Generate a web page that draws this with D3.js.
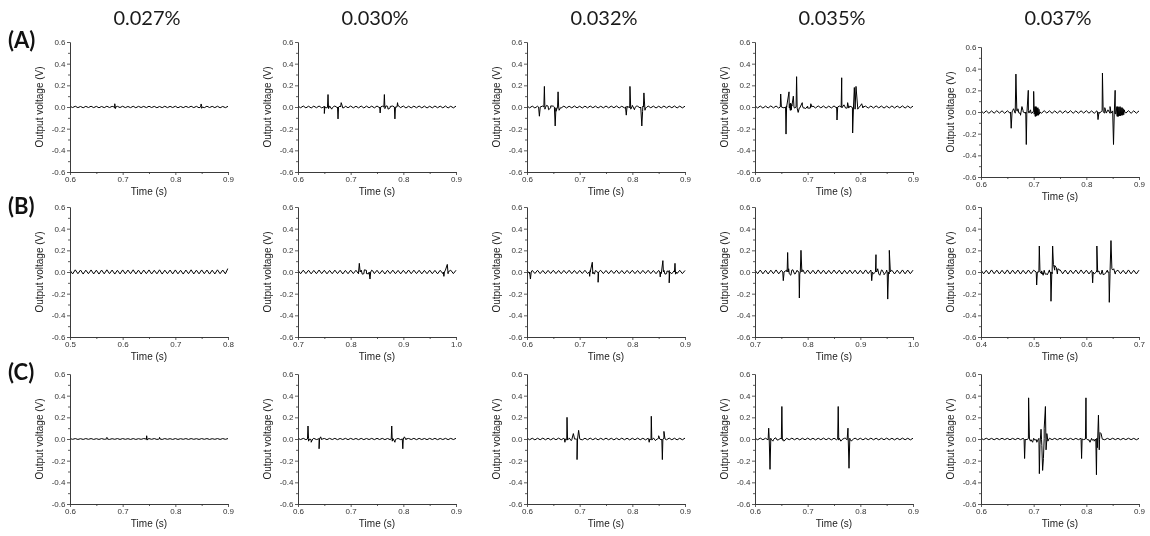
<!DOCTYPE html>
<html>
<head>
<meta charset="utf-8">
<script src="https://cdn.jsdelivr.net/npm/d3@7"></script>
<style>
  body { margin: 0; background: #fff; }
  svg { display: block; will-change: transform; }
  .axis text { font-family: Arial, "Liberation Sans", sans-serif; font-size: 8px; fill: #333; }
  .axis path, .axis line { stroke: #333; stroke-width: 0.8; }
  .axis-label { font-family: Arial, "Liberation Sans", sans-serif; font-size: 10px; fill: #222; }
</style>
</head>
<body>
<div id="chart"></div>
<script>
// column titles (concentration) and row letters
const concentrations = ["0.027%", "0.030%", "0.032%", "0.035%", "0.037%"];
const rowLabels = ["(A)", "(B)", "(C)"];
const yTicks = [-0.6, -0.4, -0.2, 0.0, 0.2, 0.4, 0.6];
const yMinorTicks = [-0.5, -0.3, -0.1, 0.1, 0.3, 0.5];

// start of the 0.3 s time window of each panel, [row][col]
const timeStart = [
  [0.6, 0.6, 0.6, 0.6, 0.6],
  [0.5, 0.7, 0.6, 0.7, 0.4],
  [0.6, 0.6, 0.6, 0.6, 0.6]
];
const windowLength = 0.3;
const sampleStep = 0.005; // baseline samples, s

// baseline ripple in mV, one sample every 5 ms from the window start
const rippleA1 = [6,-5,7,-6,5,-7,6,-5,7,-6, 6,-7,5,-6,7,-5,6,-7,6,-5, 7,-6,5,-6,7,-7,6,-5,6,-6, 7,-5,6,-7,5,-6,7,-6,6,-5, 7,-7,5,-6,6,-5,7,-6,6,-7, 5,-6,7,-5,6,-6,7,-7,5,-6, 6];
const rippleA2 = [8,-7,9,-8,7,-9,8,-7,9,-8, 8,-9,7,-8,9,-7,8,-9,8,-7, 9,-8,7,-8,9,-9,8,-7,8,-8, 9,-7,8,-9,7,-8,9,-8,8,-7, 9,-9,7,-8,8,-7,9,-8,8,-9, 7,-8,9,-7,8,-8,9,-9,7,-8, 8];
const rippleA3 = [9,-8,8,-9,7,-8,9,-7,8,-9, 8,-7,9,-8,8,-9,7,-8,9,-8, 7,-9,8,-8,9,-7,8,-9,7,-8, 9,-8,8,-7,9,-9,7,-8,8,-7, 9,-8,7,-9,8,-8,9,-7,8,-9, 7,-8,9,-8,8,-7,9,-9,8,-8, 7];
const rippleA4 = [10,-9,9,-10,8,-9,10,-8,9,-10, 9,-8,10,-9,9,-10,8,-9,10,-9, 8,-10,9,-9,10,-8,9,-10,8,-9, 10,-9,9,-8,10,-10,8,-9,9,-8, 10,-9,8,-10,9,-9,10,-8,9,-10, 8,-9,10,-9,9,-8,10,-10,9,-9, 8];
const rippleA5 = [12,-11,11,-12,10,-11,12,-10,11,-12, 11,-10,12,-11,11,-12,10,-11,12,-11, 10,-12,11,-11,12,-10,11,-12,10,-11, 12,-11,11,-10,12,-12,10,-11,11,-10, 12,-11,10,-12,11,-11,12,-10,11,-12, 10,-11,12,-11,11,-10,12,-12,11,-11, 10];
const rippleB1 = [17,-18,20,-16,18,-19,17,-16,19,-18, 17,-19,18,-17,20,-16,18,-19,16,-18, 19,-17,18,-16,20,-18,17,-19,18,-16, 19,-18,16,-17,20,-19,17,-16,18,-18, 19,-17,16,-19,18,-16,20,-18,17,-17, 19,-16,18,-19,17,-18,20,-16,18,-17, 30];
const rippleB2 = [15,-16,17,-15,16,-17,15,-16,18,-15, 16,-17,15,-16,17,-15,16,-18,15,-16, 17,-15,16,-17,18,-16,15,-16,17,-15, 16,-17,15,-18,16,-15,17,-16,15,-17, 16,-15,18,-16,17,-15,16,-17,15,-16, 17,-16,15,-17,16,-15,18,-16,17,-15, 16];
const rippleB3 = [14,-16,15,-14,16,-15,14,-16,15,-14, 16,-15,14,-16,15,-14,16,-15,14,-16, 15,-14,16,-15,14,-16,15,-14,16,-15, 14,-16,15,-14,16,-15,14,-16,15,-14, 16,-15,14,-16,15,-14,16,-15,14,-16, 15,-14,16,-15,14,-16,15,-14,16,-15, 14];
const rippleB4 = [17,-16,18,-17,16,-18,17,-16,19,-17, 16,-18,17,-16,18,-17,16,-19,17,-16, 18,-17,16,-18,19,-16,17,-18,16,-17, 18,-16,17,-19,16,-17,18,-16,17,-18, 16,-17,19,-16,18,-17,16,-18,17,-16, 18,-17,16,-18,17,-16,19,-17,18,-16, 17];
const rippleB5 = [18,-17,16,-18,19,-16,17,-18,16,-17, 19,-18,17,-16,18,-19,16,-17,18,-16, 17,-19,18,-17,16,-18,19,-16,17,-18, 16,-17,18,-19,17,-16,18,-17,19,-16, 17,-18,16,-17,19,-16,18,-18,17,-16, 18,-19,17,-16,16,-18,19,-17,16,-18, 17];
const rippleC1 = [4,-3,4,-4,3,-4,4,-3,4,-4, 3,-4,4,-3,4,-4,3,-3,4,-4, 4,-3,3,-4,4,-4,3,-3,4,-4, 4,-3,4,-4,3,-4,4,-3,3,-4, 4,-4,3,-3,4,-4,4,-3,3,-4, 4,-3,4,-4,3,-3,4,-4,4,-3, 4];
const rippleC2 = [6,-5,6,-6,5,-6,6,-5,6,-6, 5,-6,6,-5,6,-6,5,-5,6,-6, 6,-5,5,-6,6,-6,5,-5,6,-6, 6,-5,6,-6,5,-6,6,-5,5,-6, 6,-6,5,-5,6,-6,6,-5,5,-6, 6,-5,6,-6,5,-5,6,-6,6,-5, 6];
const rippleC3 = [8,-7,7,-8,7,-7,8,-7,7,-8, 7,-7,8,-7,7,-8,7,-7,8,-7, 7,-8,7,-7,8,-7,7,-8,7,-7, 8,-7,7,-8,7,-7,8,-7,7,-8, 7,-7,8,-7,7,-8,7,-7,8,-7, 7,-8,7,-7,8,-7,7,-8,7,-7, 8];
const rippleC4 = [7,-7,8,-7,7,-8,7,-7,8,-7, 7,-8,7,-7,8,-7,7,-8,7,-7, 8,-7,7,-8,7,-7,8,-7,7,-8, 7,-7,8,-7,7,-8,7,-7,8,-7, 7,-8,7,-7,8,-7,7,-8,7,-7, 8,-7,7,-8,7,-7,8,-7,7,-8, 7];
const rippleC5 = [6,-6,7,-6,6,-7,6,-6,7,-6, 6,-7,6,-6,7,-6,6,-7,6,-6, 7,-6,6,-7,6,-6,7,-6,6,-7, 6,-6,7,-6,6,-7,6,-6,7,-6, 6,-7,6,-6,7,-6,6,-7,6,-6, 7,-6,6,-7,6,-6,7,-6,6,-7, 6];

// spike bursts: [time (s), voltage (mV)]
const spikesA1 = [[0.684,0],[0.685,30],[0.686,-15],[0.687,0],[0.848,0],[0.849,28],[0.850,-12],[0.851,0]];
const spikesA2 = [
  [0.649,0],[0.650,-60],[0.651,0],[0.656,0],[0.657,115],[0.658,-15],[0.660,10],[0.664,-20],[0.668,5],[0.675,0],[0.676,-110],[0.677,0],[0.681,0],[0.682,40],[0.684,10],[0.688,-5],
  [0.755,0],[0.756,-55],[0.757,0],[0.763,0],[0.764,115],[0.765,-15],[0.767,10],[0.771,-20],[0.775,5],[0.783,0],[0.784,-110],[0.785,0],[0.788,0],[0.789,40],[0.791,10],[0.795,-5]
];
const spikesA3 = [
  [0.622,0],[0.6235,-85],[0.625,0],[0.632,0],[0.633,190],[0.634,-20],[0.637,15],[0.641,-25],[0.645,10],[0.652,0],[0.6535,-175],[0.655,-40],[0.658,0],[0.659,140],[0.661,-30],[0.664,-5],
  [0.787,0],[0.7885,-75],[0.790,0],[0.7945,0],[0.7955,190],[0.797,-20],[0.800,15],[0.804,-25],[0.808,10],[0.816,0],[0.818,-175],[0.8195,-40],[0.821,0],[0.822,130],[0.824,-30],[0.827,-5]
];
const spikesA4 = [
  [0.648,0],[0.6488,120],[0.650,0],[0.658,0],[0.6589,-250],[0.660,0],[0.6646,140],[0.6655,-10],[0.6665,30],[0.667,-30],[0.6675,35],[0.668,-30],[0.6685,30],[0.669,-25],[0.6698,20],[0.6728,100],[0.674,0],[0.678,0],[0.679,280],[0.680,-10],[0.682,-50],[0.684,-10],[0.6897,40],[0.692,-10],[0.696,-15],[0.700,-10],[0.706,30],[0.708,0],
  [0.755,0],[0.7557,-120],[0.757,0],[0.7636,0],[0.7646,270],[0.766,0],[0.769,20],[0.772,-10],[0.7759,40],[0.778,-10],[0.784,0],[0.7854,-240],[0.787,0],[0.7886,180],[0.790,-20],[0.7918,190],[0.795,-20],[0.798,0],[0.8026,30],[0.805,0]
];
const spikesA5 = [
  [0.656,0],[0.6573,-150],[0.659,0],[0.6618,30],[0.665,0],[0.6663,350],[0.668,10],[0.670,30],[0.672,-10],[0.675,-30],[0.6777,50],[0.680,0],[0.685,0],[0.686,-300],[0.687,-20],[0.6898,200],[0.691,-10],[0.694,20],[0.697,-10],[0.700,190],[0.701,-20],[0.7025,50],[0.703,-40],[0.7035,45],[0.704,-40],[0.7045,50],[0.705,-35],[0.7055,40],[0.706,-30],[0.7065,35],[0.707,-30],[0.708,40],[0.709,-30],[0.710,25],[0.711,-20],[0.712,0],
  [0.821,0],[0.8222,-70],[0.824,0],[0.8306,360],[0.832,0],[0.835,40],[0.838,-10],[0.841,20],[0.845,50],[0.847,-10],[0.8516,-300],[0.853,-20],[0.8547,200],[0.856,-20],[0.858,50],[0.8585,-40],[0.859,45],[0.8595,-40],[0.860,50],[0.861,-40],[0.862,45],[0.863,-35],[0.864,50],[0.865,-35],[0.866,40],[0.867,-30],[0.868,40],[0.869,-30],[0.870,30],[0.871,-25],[0.872,20],[0.873,0]
];
const spikesB1 = [[0.7995,30]];
const spikesB2 = [
  [0.815,0],[0.8164,80],[0.818,0],[0.822,-20],[0.826,20],[0.830,-15],[0.835,0],[0.8367,-65],[0.838,0],[0.842,10],
  [0.976,0],[0.977,-40],[0.978,0],[0.9835,70],[0.985,0]
];
const spikesB3 = [
  [0.605,0],[0.6065,-65],[0.608,0],
  [0.718,0],[0.719,-40],[0.720,0],[0.724,90],[0.725,0],[0.728,-20],[0.731,10],[0.734,0],[0.735,-95],[0.736,0],[0.740,15],
  [0.852,0],[0.853,-45],[0.854,0],[0.858,105],[0.859,0],[0.862,-20],[0.866,10],[0.869,0],[0.870,-100],[0.871,0],[0.880,0],[0.881,80],[0.882,-20],[0.884,0]
];
const spikesB4 = [
  [0.7527,0],[0.7537,-80],[0.755,0],[0.761,0],[0.762,180],[0.763,0],[0.764,30],[0.768,-30],[0.772,20],[0.776,-20],[0.780,10],[0.7835,0],[0.7842,-240],[0.786,0],[0.7873,200],[0.789,0],[0.791,20],[0.794,-10],
  [0.9206,0],[0.9216,-80],[0.923,0],[0.9287,0],[0.9297,160],[0.931,0],[0.933,30],[0.937,-30],[0.941,20],[0.945,-25],[0.949,0],[0.951,0],[0.952,-250],[0.9535,0],[0.955,200],[0.957,0],[0.959,15]
];
const spikesB5 = [
  [0.5047,0],[0.5057,-120],[0.507,0],[0.5097,0],[0.5107,240],[0.512,0],[0.515,10],[0.518,-30],[0.522,-20],[0.526,-25],[0.530,0],[0.532,0],[0.5329,-270],[0.5345,0],[0.536,240],[0.5375,70],[0.540,60],[0.543,40],[0.546,30],[0.550,20],[0.553,0],
  [0.611,0],[0.612,-100],[0.613,0],[0.619,0],[0.620,240],[0.6215,0],[0.624,10],[0.628,-20],[0.632,-25],[0.636,-15],[0.640,0],[0.6428,0],[0.6436,-280],[0.645,0],[0.6468,290],[0.6485,30],[0.652,30],[0.655,0]
];
const spikesC1 = [[0.669,0],[0.670,15],[0.671,0],[0.7446,0],[0.7456,30],[0.7466,-10],[0.748,0],[0.769,0],[0.770,15],[0.771,0]];
const spikesC2 = [
  [0.618,0],[0.619,120],[0.620,-20],[0.622,0],[0.625,-30],[0.628,0],[0.639,0],[0.640,-90],[0.641,0],[0.643,20],[0.646,0],
  [0.777,0],[0.778,120],[0.779,-20],[0.781,0],[0.784,-30],[0.787,0],[0.798,0],[0.799,-90],[0.800,0],[0.802,20],[0.805,0]
];
const spikesC3 = [
  [0.671,0],[0.672,-30],[0.673,0],[0.6755,0],[0.676,200],[0.677,-10],[0.680,10],[0.684,-15],[0.688,50],[0.690,0],[0.694,0],[0.695,-190],[0.696,0],[0.698,80],[0.700,0],
  [0.831,0],[0.832,-30],[0.833,0],[0.8355,0],[0.836,210],[0.837,-10],[0.840,10],[0.844,-15],[0.850,30],[0.852,0],[0.856,0],[0.857,-190],[0.858,0],[0.860,70],[0.862,0]
];
const spikesC4 = [
  [0.625,0],[0.626,100],[0.627,0],[0.6285,-280],[0.630,0],[0.634,-20],[0.638,10],[0.642,-10],[0.646,0],[0.650,0],[0.651,300],[0.652,-10],[0.655,-20],[0.659,0],
  [0.757,0],[0.758,300],[0.759,-10],[0.763,-20],[0.767,0],[0.771,10],[0.775,0],[0.7765,100],[0.777,0],[0.7785,-270],[0.780,0],[0.783,-20],[0.787,0]
];
const spikesC5 = [
  [0.6818,0],[0.6828,-180],[0.684,0],[0.6894,0],[0.6904,380],[0.692,0],[0.694,-20],[0.698,-30],[0.702,-10],[0.706,-30],[0.709,0],[0.7108,-320],[0.712,-50],[0.714,90],[0.7155,-60],[0.717,-290],[0.7185,-180],[0.720,100],[0.7223,300],[0.7235,-100],[0.725,50],[0.727,-20],[0.729,0],
  [0.790,0],[0.791,-180],[0.792,0],[0.7983,0],[0.7993,380],[0.801,0],[0.803,-10],[0.807,-30],[0.811,-10],[0.815,-20],[0.818,0],[0.8192,-330],[0.821,-80],[0.823,220],[0.8245,-100],[0.826,60],[0.828,50],[0.830,0]
];

const ripples = [
  [rippleA1, rippleA2, rippleA3, rippleA4, rippleA5],
  [rippleB1, rippleB2, rippleB3, rippleB4, rippleB5],
  [rippleC1, rippleC2, rippleC3, rippleC4, rippleC5]
];
const spikes = [
  [spikesA1, spikesA2, spikesA3, spikesA4, spikesA5],
  [spikesB1, spikesB2, spikesB3, spikesB4, spikesB5],
  [spikesC1, spikesC2, spikesC3, spikesC4, spikesC5]
];

// layout
const width = 1150, height = 536;
const colLeft = [70, 298, 527, 755, 981];
const rowTop = [42, 207, 374];
const plotW = 158, plotH = 130;
const extraShift = [[0, 0, 0, 0, 5], [0, 0, 0, 0, 0], [0, 0, 0, 0, 0]]; // last panel of row A sits a bit lower

const svg = d3.select("#chart")
  .append("svg")
  .attr("width", width)
  .attr("height", height);

// column titles
svg.selectAll("text.title")
  .data(concentrations)
  .join("text")
  .attr("class", "title")
  .attr("x", (d, i) => colLeft[i] + plotW / 2 - 2)
  .attr("y", 25)
  .attr("text-anchor", "middle")
  .attr("font-family", "Lato, 'Open Sans', sans-serif")
  .attr("font-size", "20px")
  .attr("fill", "#1a1a1a")
  .text(d => d);

// row letters
svg.selectAll("text.row")
  .data(rowLabels)
  .join("text")
  .attr("class", "row")
  .attr("x", 8)
  .attr("y", (d, i) => [48, 214, 380][i])
  .attr("font-family", "Lato, 'Open Sans', sans-serif")
  .attr("font-weight", "bold")
  .attr("font-size", "22px")
  .attr("fill", "#111")
  .text(d => d);

const fmt = d => d.toFixed(1);

rowLabels.forEach((rowName, r) => {
  concentrations.forEach((conc, c) => {
    const t0 = timeStart[r][c];
    const t1 = +(t0 + windowLength).toFixed(2);
    const top = rowTop[r] + extraShift[r][c];

    const g = svg.append("g")
      .attr("transform", `translate(${colLeft[c]}, ${top})`);

    const xScale = d3.scaleLinear().domain([t0, t1]).range([0, plotW]);
    const yScale = d3.scaleLinear().domain([-0.6, 0.6]).range([plotH, 0]);

    // baseline samples + spike points, sorted in time
    const base = ripples[r][c].map((v, i) => [t0 + i * sampleStep, v]);
    const series = base.concat(spikes[r][c])
      .filter(d => d[0] >= t0 - 1e-9 && d[0] <= t1 + 1e-9)
      .sort((a, b) => a[0] - b[0]);

    const line = d3.line()
      .x(d => xScale(d[0]))
      .y(d => yScale(d[1] / 1000));

    g.append("path")
      .datum(series)
      .attr("d", line)
      .attr("fill", "none")
      .attr("stroke", "#000")
      .attr("stroke-width", 1.0)
      .attr("stroke-linejoin", "round");

    // x ticks every 0.1 s, minor ticks in between
    const xMajor = d3.range(4).map(k => +(t0 + k * 0.1).toFixed(2));
    const xMinor = d3.range(3).map(k => +(t0 + 0.05 + k * 0.1).toFixed(3));

    g.append("g")
      .attr("class", "axis")
      .attr("transform", `translate(0, ${plotH})`)
      .call(d3.axisBottom(xScale).tickValues(xMinor).tickSize(2).tickSizeOuter(0).tickFormat(""));
    g.append("g")
      .attr("class", "axis")
      .attr("transform", `translate(0, ${plotH})`)
      .call(d3.axisBottom(xScale).tickValues(xMajor).tickSize(3).tickSizeOuter(0).tickPadding(1.5).tickFormat(fmt));

    g.append("g")
      .attr("class", "axis")
      .call(d3.axisLeft(yScale).tickValues(yMinorTicks).tickSize(2).tickSizeOuter(0).tickFormat(""));
    g.append("g")
      .attr("class", "axis")
      .call(d3.axisLeft(yScale).tickValues(yTicks).tickSize(3).tickSizeOuter(0).tickPadding(1.5).tickFormat(fmt));

    // axis titles
    g.append("text")
      .attr("class", "axis-label")
      .attr("x", plotW / 2)
      .attr("y", plotH + 23)
      .attr("text-anchor", "middle")
      .text("Time (s)");

    g.append("text")
      .attr("class", "axis-label")
      .attr("transform", `translate(-27, ${plotH / 2}) rotate(-90)`)
      .attr("text-anchor", "middle")
      .text("Output voltage (V)");
  });
});
</script>
</body>
</html>
